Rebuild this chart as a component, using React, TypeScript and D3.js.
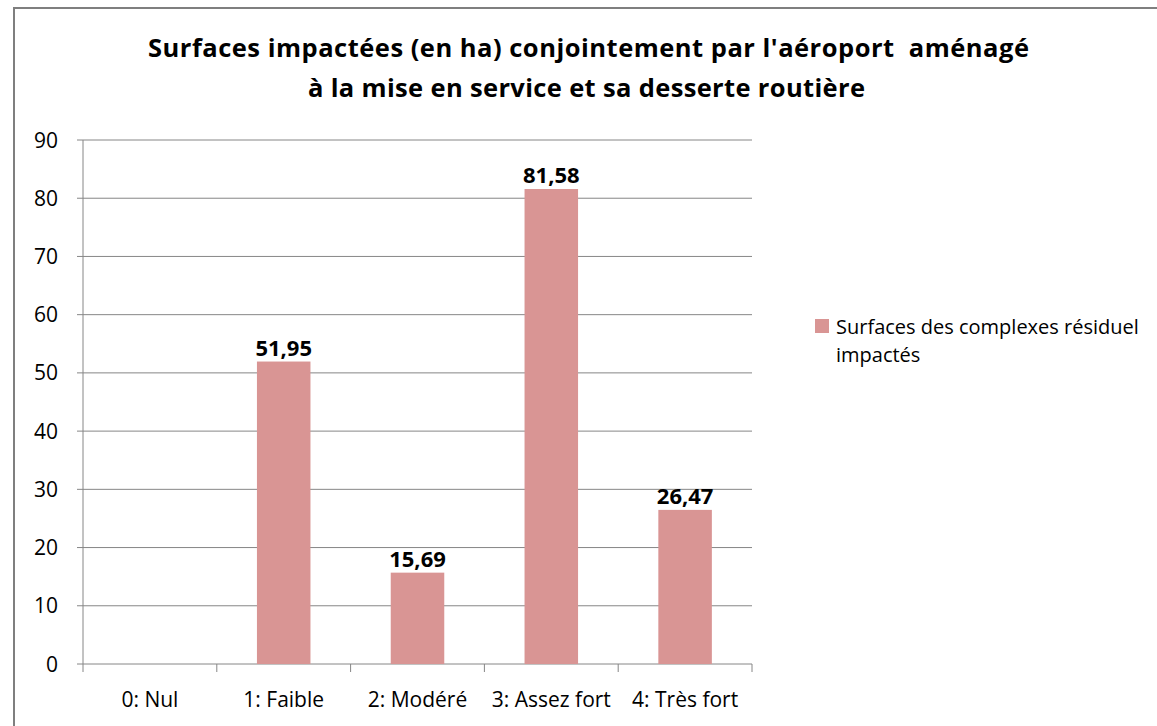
import React from "react";
import * as d3 from "d3";

const categories = ["0: Nul", "1: Faible", "2: Modéré", "3: Assez fort", "4: Très fort"];
const values = [0, 51.95, 15.69, 81.58, 26.47];
const yTicks = [0, 10, 20, 30, 40, 50, 60, 70, 80, 90];
const seriesName = ["Surfaces des complexes résiduel", "impactés"];
const titleLines = [
  "Surfaces impactées (en ha) conjointement par l'aéroport  aménagé",
  "à la mise en service et sa desserte routière",
];

const W = 1157;
const H = 726;
const FONT = "'Open Sans', Lato, sans-serif";
const BAR = "#d99594";
const GRID = "#868686";

const plot = { left: 83, right: 752, top: 140, bottom: 664 };

const fmt = (v: number) => v.toFixed(2).replace(".", ",");

export default function App() {
  const x = d3
    .scaleBand<string>()
    .domain(categories)
    .range([plot.left, plot.right])
    .paddingInner(0)
    .paddingOuter(0);
  const y = d3.scaleLinear().domain([0, 90]).range([plot.bottom, plot.top]);
  const barW = x.bandwidth() * 0.4;

  return (
    <svg
      width={W}
      height={H}
      style={{ position: "absolute", left: 0, top: 0, background: "#fff" }}
    >
      {/* chart frame (runs past the window on the right and bottom) */}
      <rect x={14} y={8} width={W + 20} height={H + 20} fill="#fff" stroke="#7f7f7f" strokeWidth={2} />

      {/* title */}
      <text
        x={148}
        y={57}
        fontFamily={FONT}
        fontWeight="bold"
        fontSize={25.5}
        fill="#000"
        textLength={881}
        lengthAdjust="spacing"
        style={{ whiteSpace: "pre" }}
      >
        {titleLines[0]}
      </text>
      <text
        x={308}
        y={97}
        fontFamily={FONT}
        fontWeight="bold"
        fontSize={25.5}
        fill="#000"
        textLength={557}
        lengthAdjust="spacing"
      >
        {titleLines[1]}
      </text>

      {/* gridlines + y labels */}
      {yTicks.map((t) => (
        <g key={t}>
          <line x1={plot.left - 6} x2={plot.right} y1={y(t)} y2={y(t)} stroke={GRID} strokeWidth={1} />
          <text
            x={58}
            y={y(t)}
            dy="0.36em"
            textAnchor="end"
            fontFamily={FONT}
            fontSize={21}
            fill="#000"
          >
            {t}
          </text>
        </g>
      ))}

      {/* y axis */}
      <line x1={plot.left} x2={plot.left} y1={plot.top} y2={plot.bottom + 8} stroke={GRID} strokeWidth={1} />

      {/* category ticks */}
      {categories.map((c) => (
        <line
          key={c}
          x1={(x(c) as number) + x.bandwidth()}
          x2={(x(c) as number) + x.bandwidth()}
          y1={plot.bottom}
          y2={plot.bottom + 8}
          stroke={GRID}
          strokeWidth={1}
        />
      ))}

      {/* bars */}
      {categories.map((c, i) => {
        const cx = (x(c) as number) + x.bandwidth() / 2;
        if (values[i] === 0) return null;
        return (
          <g key={c}>
            <rect
              x={cx - barW / 2}
              y={y(values[i])}
              width={barW}
              height={y(0) - y(values[i])}
              fill={BAR}
            />
            <text
              x={cx}
              y={y(values[i]) - 6}
              textAnchor="middle"
              fontFamily={FONT}
              fontWeight="bold"
              fontSize={22}
              fill="#000"
            >
              {fmt(values[i])}
            </text>
          </g>
        );
      })}

      {/* category labels */}
      {categories.map((c) => (
        <text
          key={c}
          x={(x(c) as number) + x.bandwidth() / 2}
          y={707}
          textAnchor="middle"
          fontFamily={FONT}
          fontSize={21}
          fill="#000"
        >
          {c}
        </text>
      ))}

      {/* legend */}
      <rect x={815} y={319} width={14} height={14} fill={BAR} />
      {seriesName.map((s, i) => (
        <text key={i} x={836} y={334 + i * 28} fontFamily={FONT} fontSize={20} fill="#000">
          {s}
        </text>
      ))}
    </svg>
  );
}
